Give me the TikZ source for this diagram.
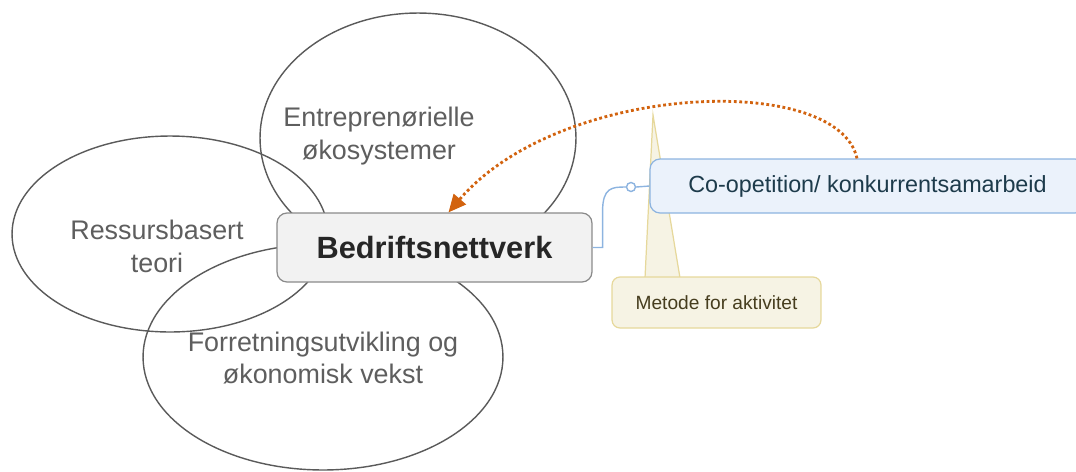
\documentclass[tikz,border=0pt]{standalone}
\usepackage{fontspec}
\setmainfont{Liberation Sans}
\usetikzlibrary{shapes.geometric,arrows.meta}

\definecolor{rimgray}{HTML}{5A5A5A}
\definecolor{labgray}{HTML}{5E5E5E}
\definecolor{hubfill}{HTML}{F2F2F2}
\definecolor{hubrim}{HTML}{8A8A8A}
\definecolor{coopfill}{HTML}{EBF2FB}
\definecolor{cooprim}{HTML}{8DB4E0}
\definecolor{cooptext}{HTML}{1D3B4B}
\definecolor{notefill}{HTML}{F6F3E4}
\definecolor{noterim}{HTML}{E6D89B}
\definecolor{notetext}{HTML}{463D1E}
\definecolor{relorange}{HTML}{D2630F}

\tikzset{
  field/.style={ellipse, draw=rimgray, line width=0.8pt, inner sep=0pt},
  fieldlabel/.style={align=center, text=labgray, font=\fontsize{15.3}{18.7}\selectfont},
  hubbox/.style={draw=hubrim, fill=hubfill, line width=0.7pt, rounded corners=0.2cm,
    minimum width=6.3cm, minimum height=1.38cm, text=black!85,
    font=\bfseries\fontsize{17.5}{20}\selectfont},
  topicbox/.style={draw=cooprim, fill=coopfill, line width=0.7pt, rounded corners=0.2cm,
    minimum width=8.7cm, minimum height=1.08cm, text=cooptext,
    font=\fontsize{13.3}{16}\selectfont},
  notebox/.style={draw=noterim, fill=notefill, line width=0.7pt, rounded corners=0.16cm,
    minimum width=4.18cm, minimum height=1.02cm, text=notetext,
    font=\fontsize{10.9}{13}\selectfont},
  link/.style={draw=cooprim, line width=0.8pt},
  relate/.style={draw=relorange, line width=1.6pt, dash pattern=on 1.6pt off 1.5pt,
    -{Triangle[length=10pt,width=9pt,fill=relorange]}}
}

\begin{document}
\begin{tikzpicture}[x=0.02cm, y=-0.02cm]
  \useasboundingbox (0,0) rectangle (1076,471);
  \clip (0,0) rectangle (1076,471);

  % Overlapping fields
  \node[field, minimum width=6.32cm, minimum height=5cm] (eco) at (418,138) {};
  \node[field, minimum width=6.32cm, minimum height=3.92cm] (res) at (170,234) {};
  \node[field, minimum width=7.2cm, minimum height=4.52cm] (biz) at (323,357) {};
  \node[fieldlabel] (ecolabel) at (379,136) {Entreprenørielle\\økosystemer};
  \node[fieldlabel] (reslabel) at (157,246) {Ressursbasert\\teori};
  \node[fieldlabel] (bizlabel) at (323,358) {Forretningsutvikling og\\økonomisk vekst};

  % Callout pointer behind the boxes
  \coordinate (pin) at (653,115);
  \filldraw[draw=noterim, fill=notefill, line width=0.7pt]
    (pin) -- (645,278) -- (680,278) -- cycle;

  % Central topic and subtopic
  \node[hubbox] (hub) at (434.5,247.5) {Bedriftsnettverk};
  \node[topicbox] (coop) at (867.5,186) {Co-opetition/ konkurrentsamarbeid};
  \node[notebox] (note) at (716.5,302.5) {Metode for aktivitet};

  % Branch from the central topic
  \node[circle, draw=cooprim, fill=white, line width=0.8pt, inner sep=0pt,
    minimum size=0.18cm] (knob) at (631,187) {};
  \path[link] (hub.east) -- ++(10,0) -- ++(0,-36)
    .. controls +(0,-24) and +(-14,0) .. (knob.west);
  \path[link] (knob.east) -- (coop.west);

  % Relationship back to the central topic
  \path[relate] ([xshift=-0.21cm]coop.north)
    .. controls (838,72) and (560,82) .. ([xshift=0.28cm]hub.north);
\end{tikzpicture}
\end{document}
